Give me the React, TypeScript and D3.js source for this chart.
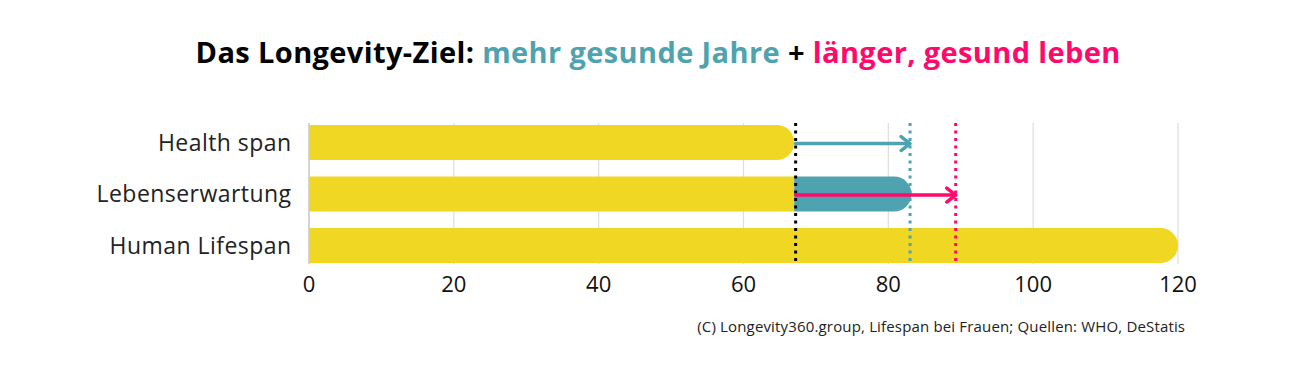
import React from "react";
import * as d3 from "d3";

const categories = ["Health span", "Lebenserwartung", "Human Lifespan"];
const baseValues = [67, 67, 120];
const extraStart = [null, 67, null];
const extraEnd = [null, 83.2, null];
const markerLines = [
  { value: 67.2, color: "#000000" },
  { value: 83, color: "#4FA3B0" },
  { value: 89.3, color: "#FF0A6C" },
];
const arrows = [
  { category: "Health span", from: 67.2, to: 83, color: "#4FA3B0" },
  { category: "Lebenserwartung", from: 67.2, to: 89.3, color: "#FF0A6C" },
];
const ticks = [0, 20, 40, 60, 80, 100, 120];

const W = 1299;
const H = 380;
const YELLOW = "#F0D723";
const TEAL = "#4FA3B0";
const PINK = "#FF0A6C";
const FONT = "'Open Sans', sans-serif";

function roundRightBar(x0: number, x1: number, y: number, h: number) {
  const r = Math.min(h / 2, Math.max(0, x1 - x0));
  const p = d3.path();
  p.moveTo(x0, y);
  p.lineTo(x1 - r, y);
  p.arc(x1 - r, y + r, r, -Math.PI / 2, 0);
  p.lineTo(x1, y + h - r);
  p.arc(x1 - r, y + h - r, r, 0, Math.PI / 2);
  p.lineTo(x0, y + h);
  p.closePath();
  return p.toString();
}

export default function App() {
  const x = d3.scaleLinear().domain([0, 120]).range([309, 1178]);
  const y = d3
    .scaleBand<string>()
    .domain(categories)
    .range([116.76, 271.26])
    .paddingInner(0.32)
    .paddingOuter(0.16);
  const bh = y.bandwidth();
  const gridTop = 123;
  const gridBottom = (y(categories[2]) as number) + bh + 1;

  return (
    <svg
      width={W}
      height={H}
      style={{ position: "absolute", left: 0, top: 0, background: "#fff" }}
      fontFamily={FONT}
    >
      <text x={658.2} y={63} textAnchor="middle" fontSize={29} fontWeight={700} letterSpacing={0.38}>
        <tspan fill="#000">Das Longevity-Ziel: </tspan>
        <tspan fill={TEAL}>mehr gesunde Jahre</tspan>
        <tspan fill="#000"> + </tspan>
        <tspan fill={PINK}>länger, gesund leben</tspan>
      </text>

      {ticks.map((t) => (
        <line
          key={"g" + t}
          x1={x(t)}
          x2={x(t)}
          y1={gridTop}
          y2={gridBottom}
          stroke={t === 0 ? "#bbb" : "#ddd"}
          strokeWidth={1.2}
        />
      ))}

      {categories.map((c, i) => {
        const yy = y(c) as number;
        const hasExtra = extraEnd[i] != null;
        return (
          <g key={c}>
            {hasExtra ? (
              <rect x={x(0)} y={yy} width={x(baseValues[i]) - x(0)} height={bh} fill={YELLOW} />
            ) : (
              <path d={roundRightBar(x(0), x(baseValues[i]), yy, bh)} fill={YELLOW} />
            )}
            {hasExtra && (
              <path
                d={roundRightBar(x(extraStart[i] as number), x(extraEnd[i] as number), yy, bh)}
                fill={TEAL}
              />
            )}
            <text
              x={291.5}
              y={yy + bh / 2}
              dy="0.35em"
              textAnchor="end"
              fontSize={23}
              letterSpacing={0.45}
              fill="#222"
            >
              {c}
            </text>
          </g>
        );
      })}

      {markerLines.map((m) => (
        <line
          key={"m" + m.value}
          x1={x(m.value)}
          x2={x(m.value)}
          y1={gridTop}
          y2={gridBottom}
          stroke={m.color}
          strokeWidth={3}
          strokeDasharray="3,4.5"
        />
      ))}

      {arrows.map((a) => {
        const yy = (y(a.category) as number) + bh / 2 + 1;
        const x1 = x(a.from);
        const x2 = x(a.to);
        return (
          <g key={"a" + a.category} stroke={a.color} strokeWidth={3.5} fill="none" strokeLinecap="round" strokeLinejoin="round">
            <line x1={x1} x2={x2 - 1} y1={yy} y2={yy} />
            <polyline points={`${x2 - 9},${yy - 7} ${x2},${yy} ${x2 - 9},${yy + 7}`} />
          </g>
        );
      })}

      {ticks.map((t) => (
        <text
          key={"t" + t}
          x={x(t)}
          y={292}
          textAnchor="middle"
          fontSize={22}
          fill="#111"
        >
          {t}
        </text>
      ))}

      <text x={1185.2} y={332} textAnchor="end" fontSize={15} letterSpacing={0.16} fill="#222">
        (C) Longevity360.group, Lifespan bei Frauen; Quellen: WHO, DeStatis
      </text>
    </svg>
  );
}
